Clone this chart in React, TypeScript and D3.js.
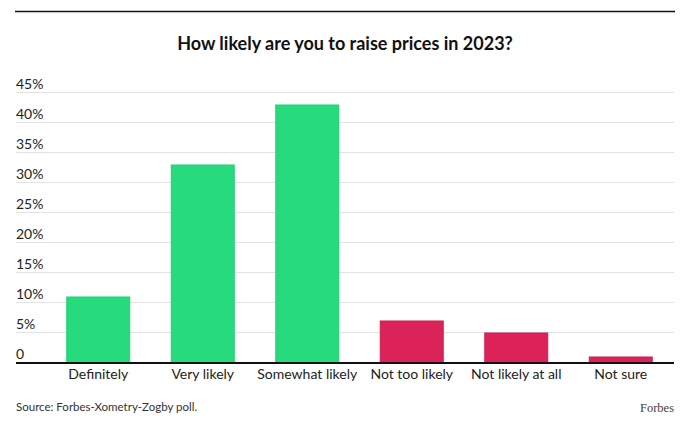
import React from 'react';
import * as d3 from 'd3';

const categories = ['Definitely', 'Very likely', 'Somewhat likely', 'Not too likely', 'Not likely at all', 'Not sure'];
const values = [11, 33, 43, 7, 5, 1];
const groups = ['likely', 'likely', 'likely', 'unlikely', 'unlikely', 'unlikely'];
const yTicks = [0, 5, 10, 15, 20, 25, 30, 35, 40, 45];

const width = 690;
const height = 425;
const font = 'Lato, "Open Sans", sans-serif';

const colors: Record<string, { fill: string; stroke: string }> = {
    likely: { fill: '#27da7d', stroke: '#1fcf6f' },
    unlikely: { fill: '#db2359', stroke: '#d01a50' },
};

export default function App() {
    const left = 16;
    const right = 674;
    const bottom = 362.5;

    const x = d3.scaleBand<string>().domain(categories).range([46, 673]).paddingInner(0.388).paddingOuter(0.194);
    const y = d3.scaleLinear().domain([0, 45]).range([bottom, bottom - 270]);

    return (
        <svg width={width} height={height} style={{ position: 'absolute', left: 0, top: 0, background: '#fff' }}>
            {/* top rule */}
            <line x1={15} x2={675} y1={11.5} y2={11.5} stroke="#111" strokeWidth={1.5} />
            <text x={345} y={50} textAnchor="middle" fontFamily={font} fontWeight={700} fontSize={18} fill="#111">
                How likely are you to raise prices in 2023?
            </text>

            {/* gridlines + y labels */}
            {yTicks.map((t) => (
                <g key={t}>
                    {t > 0 && <line x1={left} x2={right} y1={y(t)} y2={y(t)} stroke="#e3e3e3" strokeWidth={1} />}
                    <text x={left} y={y(t) - 3.5} fontFamily={font} fontSize={14} fill="#222">
                        {t === 0 ? '0' : `${t}%`}
                    </text>
                </g>
            ))}

            {/* bars */}
            {categories.map((c, i) => (
                <rect
                    key={c}
                    x={x(c)! + 0.5}
                    y={y(values[i]) + 0.5}
                    width={x.bandwidth() - 1}
                    height={bottom - y(values[i]) - 0.5}
                    fill={colors[groups[i]].fill}
                    stroke={colors[groups[i]].stroke}
                    strokeWidth={1}
                />
            ))}

            {/* baseline */}
            <line x1={left} x2={right} y1={bottom + 0.5} y2={bottom + 0.5} stroke="#111" strokeWidth={2} />

            {/* category labels */}
            {categories.map((c) => (
                <text
                    key={c}
                    x={x(c)! + x.bandwidth() / 2}
                    y={378.5}
                    textAnchor="middle"
                    fontFamily={font}
                    fontSize={14}
                    fill="#222"
                >
                    {c}
                </text>
            ))}

            <text x={left} y={411} fontFamily={font} fontSize={11.5} fill="#333">
                Source: Forbes-Xometry-Zogby poll.
            </text>
            <text x={right} y={412} textAnchor="end" fontFamily='"Liberation Serif", "DejaVu Serif", serif' fontSize={12.5} fill="#444">
                Forbes
            </text>
        </svg>
    );
}
